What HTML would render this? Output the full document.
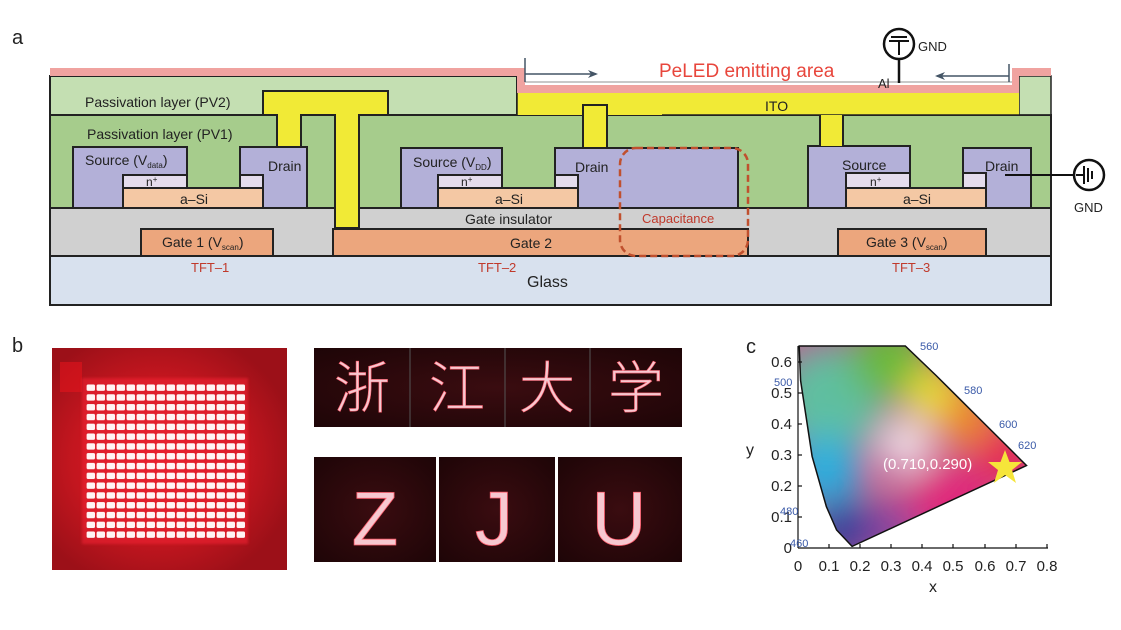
<!DOCTYPE html>
<html><head><meta charset="utf-8"><style>
html,body{margin:0;padding:0;background:#fff;}
svg{display:block;font-family:"Liberation Sans","Noto Sans CJK SC",sans-serif;}
</style></head><body>
<svg width="1121" height="630" viewBox="0 0 1121 630" xmlns="http://www.w3.org/2000/svg">
<defs>
<pattern id="dots" x="86" y="383" width="10" height="9.8" patternUnits="userSpaceOnUse">
<rect x="0.6" y="1.5" width="8.4" height="6.4" rx="1.5" fill="#fff4f4"/>
</pattern>
<radialGradient id="glowL" cx="0.45" cy="0.5" r="0.6">
<stop offset="0" stop-color="#e0202a"/><stop offset="0.6" stop-color="#c4161f"/><stop offset="1" stop-color="#9c1018"/>
</radialGradient>
<radialGradient id="dark" cx="0.5" cy="0.5" r="0.7">
<stop offset="0" stop-color="#3a0c10"/><stop offset="1" stop-color="#1e0507"/>
</radialGradient>
<clipPath id="gam"><path id="gp" d="M852.1,546.4 L836.6,530 L826.4,506.7 L812.1,456.3 L800.6,380.6 L799.2,346 L905.3,346 L936.1,375.5 L957.4,396.7 L976.9,416.1 L993,432.1 L1005.1,444.1 L1013.1,452.1 L1021.6,460.6 L1026.5,465.5 Z"/></clipPath>
<filter id="bl" x="-50%" y="-50%" width="200%" height="200%"><feGaussianBlur stdDeviation="18"/></filter>
<filter id="gl"><feGaussianBlur stdDeviation="1.2"/></filter>
</defs>

<!-- panel a -->
<text x="12" y="44" font-size="20" fill="#222">a</text>
<rect x="50" y="256" width="1001" height="49" fill="#d8e1ee" stroke="#222" stroke-width="2"/>
<rect x="50" y="208" width="1001" height="48" fill="#d0d0d0" stroke="#222" stroke-width="2"/>
<rect x="50" y="115" width="1001" height="93" fill="#a6cc8c" stroke="#222" stroke-width="2"/>
<rect x="50" y="76" width="467" height="39" fill="#c4dfb2" stroke="#222" stroke-width="2"/>
<rect x="1019" y="76" width="32" height="39" fill="#c4dfb2" stroke="#222" stroke-width="1.5"/>
<rect x="517" y="93" width="502" height="22" fill="#f1ea36"/>
<line x1="517" y1="93" x2="517" y2="115" stroke="#222" stroke-width="1.5"/>
<line x1="662" y1="115" x2="1051" y2="115" stroke="#222" stroke-width="1.5"/>
<path d="M50,68 L525,68 L525,85 L1012,85 L1012,68 L1051,68 L1051,76 L1019,76 L1019,93 L517,93 L517,76 L50,76 Z" fill="#f0a3a0"/>
<line x1="525" y1="82" x2="1012" y2="82" stroke="#c8c8c8" stroke-width="2"/>
<rect x="141" y="229" width="132" height="27" fill="#eca67d" stroke="#222" stroke-width="2"/>
<rect x="333" y="229" width="415" height="27" fill="#eca67d" stroke="#222" stroke-width="2"/>
<rect x="838" y="229" width="148" height="27" fill="#eca67d" stroke="#222" stroke-width="2"/>
<rect x="73" y="147" width="114" height="61" fill="#b3b0d8" stroke="#222" stroke-width="2"/>
<rect x="240" y="147" width="67" height="61" fill="#b3b0d8" stroke="#222" stroke-width="2"/>
<rect x="123" y="188" width="140" height="20" fill="#f4c8a4" stroke="#222" stroke-width="2"/>
<rect x="123" y="175" width="64" height="13" fill="#e4dcec" stroke="#222" stroke-width="2"/>
<rect x="240" y="175" width="23" height="13" fill="#e4dcec" stroke="#222" stroke-width="2"/>
<rect x="401" y="148" width="101" height="60" fill="#b3b0d8" stroke="#222" stroke-width="2"/>
<rect x="555" y="148" width="183" height="60" fill="#b3b0d8" stroke="#222" stroke-width="2"/>
<rect x="438" y="188" width="140" height="20" fill="#f4c8a4" stroke="#222" stroke-width="2"/>
<rect x="438" y="175" width="64" height="13" fill="#e4dcec" stroke="#222" stroke-width="2"/>
<rect x="555" y="175" width="23" height="13" fill="#e4dcec" stroke="#222" stroke-width="2"/>
<rect x="808" y="146" width="102" height="62" fill="#b3b0d8" stroke="#222" stroke-width="2"/>
<rect x="963" y="148" width="68" height="60" fill="#b3b0d8" stroke="#222" stroke-width="2"/>
<rect x="846" y="188" width="140" height="20" fill="#f4c8a4" stroke="#222" stroke-width="2"/>
<rect x="846" y="173" width="64" height="15" fill="#e4dcec" stroke="#222" stroke-width="2"/>
<rect x="963" y="173" width="23" height="15" fill="#e4dcec" stroke="#222" stroke-width="2"/>
<path d="M263,91 L388,91 L388,115 L359,115 L359,228 L335,228 L335,115 L301,115 L301,147 L277,147 L277,115 L263,115 Z" fill="#f1ea36" stroke="#222" stroke-width="2"/>
<rect x="583" y="105" width="24" height="43" fill="#f1ea36" stroke="#222" stroke-width="2"/>
<rect x="820" y="115" width="23" height="31" fill="#f1ea36"/>
<line x1="820" y1="115" x2="820" y2="146" stroke="#222" stroke-width="2"/>
<line x1="843" y1="115" x2="843" y2="146" stroke="#222" stroke-width="2"/>
<rect x="620" y="148" width="128" height="108" rx="16" fill="none" stroke="#c0502e" stroke-width="2.5" stroke-dasharray="7,4"/>
<line x1="525" y1="58" x2="525" y2="82" stroke="#445566" stroke-width="1.5"/>
<line x1="525" y1="74" x2="596" y2="74" stroke="#445566" stroke-width="1.5"/>
<path d="M598,74 L588,70 L591,74 L588,78 Z" fill="#445566"/>
<line x1="1009" y1="64" x2="1009" y2="82" stroke="#445566" stroke-width="1.5"/>
<line x1="937" y1="76" x2="1009" y2="76" stroke="#445566" stroke-width="1.5"/>
<path d="M935,76 L945,72 L942,76 L945,80 Z" fill="#445566"/>
<circle cx="899" cy="44" r="15" fill="#fff" stroke="#111" stroke-width="2.5"/>
<line x1="899" y1="59" x2="899" y2="83" stroke="#111" stroke-width="2.5"/>
<line x1="891" y1="37" x2="907" y2="37" stroke="#111" stroke-width="2"/>
<line x1="889" y1="41" x2="909" y2="41" stroke="#111" stroke-width="2"/>
<line x1="899" y1="41" x2="899" y2="55" stroke="#111" stroke-width="2"/>
<text x="918" y="51" font-size="13" fill="#222">GND</text>
<text x="878" y="88" font-size="13" fill="#222">Al</text>
<line x1="1005" y1="175" x2="1074" y2="175" stroke="#111" stroke-width="2"/>
<circle cx="1089" cy="175" r="15" fill="#fff" stroke="#111" stroke-width="2.5"/>
<line x1="1076" y1="175" x2="1084" y2="175" stroke="#111" stroke-width="2"/>
<line x1="1084" y1="166" x2="1084" y2="184" stroke="#111" stroke-width="2"/>
<line x1="1088" y1="168" x2="1088" y2="182" stroke="#111" stroke-width="2"/>
<line x1="1092" y1="171" x2="1092" y2="179" stroke="#111" stroke-width="2"/>
<text x="1074" y="212" font-size="13" fill="#222">GND</text>
<g fill="#222" font-size="14">
<text x="85" y="107">Passivation layer (PV2)</text>
<text x="87" y="139">Passivation layer (PV1)</text>
<text x="85" y="165">Source (V<tspan font-size="8" dy="3">data</tspan><tspan dy="-3">)</tspan></text>
<text x="268" y="171">Drain</text>
<text x="146" y="186" font-size="12">n<tspan font-size="8" dy="-4">+</tspan></text>
<text x="180" y="204">a–Si</text>
<text x="413" y="167">Source (V<tspan font-size="8" dy="3">DD</tspan><tspan dy="-3">)</tspan></text>
<text x="575" y="172">Drain</text>
<text x="461" y="186" font-size="12">n<tspan font-size="8" dy="-4">+</tspan></text>
<text x="495" y="204">a–Si</text>
<text x="842" y="170">Source</text>
<text x="985" y="171">Drain</text>
<text x="870" y="186" font-size="12">n<tspan font-size="8" dy="-4">+</tspan></text>
<text x="903" y="204">a–Si</text>
<text x="465" y="224">Gate insulator</text>
<text x="162" y="247">Gate 1 (V<tspan font-size="8" dy="3">scan</tspan><tspan dy="-3">)</tspan></text>
<text x="510" y="248">Gate 2</text>
<text x="866" y="247">Gate 3 (V<tspan font-size="8" dy="3">scan</tspan><tspan dy="-3">)</tspan></text>
<text x="765" y="111">ITO</text>
<text x="527" y="287" font-size="16">Glass</text>
</g>
<g fill="#c0392b" font-size="13">
<text x="191" y="272">TFT–1</text>
<text x="478" y="272">TFT–2</text>
<text x="892" y="272">TFT–3</text>
<text x="642" y="223" font-size="13">Capacitance</text>
</g>
<text x="659" y="77" font-size="19" fill="#e8463c">PeLED emitting area</text>

<!-- panel b -->
<text x="12" y="352" font-size="20" fill="#222">b</text>
<rect x="52" y="348" width="235" height="222" fill="url(#glowL)"/>
<rect x="60" y="362" width="22" height="30" fill="#e3141c" opacity="0.6"/>
<rect x="82" y="378" width="166" height="166" fill="#ee2030" opacity="0.6" filter="url(#gl)"/>
<rect x="86" y="383" width="160" height="157" fill="url(#dots)"/>
<rect x="314" y="348" width="368" height="79" fill="url(#dark)"/>
<g stroke="#555" stroke-width="1"><line x1="410" y1="348" x2="410" y2="427"/><line x1="505" y1="348" x2="505" y2="427"/><line x1="590" y1="348" x2="590" y2="427"/></g>
<g font-size="56" fill="#f6c8d0" stroke="#ff6070" stroke-width="0.6" font-weight="300" font-family="'Noto Sans CJK SC',sans-serif" text-anchor="middle">
<text x="362" y="408">浙</text><text x="457" y="408">江</text><text x="547" y="408">大</text><text x="636" y="408">学</text>
</g>
<rect x="314" y="457" width="122" height="105" fill="url(#dark)"/>
<rect x="439" y="457" width="116" height="105" fill="url(#dark)"/>
<rect x="558" y="457" width="124" height="105" fill="url(#dark)"/>
<g font-size="76" fill="#f6c8d0" stroke="#ff6070" stroke-width="0.8" font-weight="300" text-anchor="middle" font-family="'Liberation Sans',sans-serif">
<text x="375" y="545">Z</text><text x="494" y="545">J</text><text x="619" y="545">U</text>
</g>

<!-- panel c -->
<text x="746" y="353" font-size="20" fill="#222">c</text>
<g clip-path="url(#gam)">
<rect x="790" y="340" width="250" height="215" fill="#c06090"/>
<g filter="url(#bl)">
<circle cx="830" cy="400" r="55" fill="#5fbfa0"/>
<circle cx="890" cy="360" r="40" fill="#68b83a"/>
<circle cx="935" cy="395" r="30" fill="#e8e030"/>
<circle cx="968" cy="420" r="28" fill="#f08a20"/>
<circle cx="1005" cy="455" r="30" fill="#e82050"/>
<circle cx="950" cy="500" r="40" fill="#e0287a"/>
<circle cx="825" cy="470" r="35" fill="#25b0e0"/>
<circle cx="845" cy="530" r="30" fill="#2a3a9a"/>
<circle cx="890" cy="530" r="25" fill="#8040a0"/>
<circle cx="905" cy="445" r="25" fill="#f4eef2"/>
</g>
</g>
<use href="#gp" fill="none" stroke="#111" stroke-width="1.5"/>
<g stroke="#111" stroke-width="1.2">
<line x1="798" y1="346" x2="798" y2="548"/>
<line x1="798" y1="548" x2="1048" y2="548"/>
<line x1="798" y1="362" x2="802" y2="362"/><line x1="798" y1="393" x2="802" y2="393"/><line x1="798" y1="424" x2="802" y2="424"/><line x1="798" y1="455" x2="802" y2="455"/><line x1="798" y1="486" x2="802" y2="486"/><line x1="798" y1="517" x2="802" y2="517"/>
<line x1="829" y1="548" x2="829" y2="544"/><line x1="860" y1="548" x2="860" y2="544"/><line x1="891" y1="548" x2="891" y2="544"/><line x1="922" y1="548" x2="922" y2="544"/><line x1="953" y1="548" x2="953" y2="544"/><line x1="985" y1="548" x2="985" y2="544"/><line x1="1016" y1="548" x2="1016" y2="544"/><line x1="1047" y1="548" x2="1047" y2="544"/>
</g>
<g font-size="15" fill="#222" text-anchor="end">
<text x="792" y="367">0.6</text><text x="792" y="398">0.5</text><text x="792" y="429">0.4</text><text x="792" y="460">0.3</text><text x="792" y="491">0.2</text><text x="792" y="522">0.1</text><text x="792" y="553">0</text>
</g>
<g font-size="15" fill="#222" text-anchor="middle">
<text x="798" y="571">0</text><text x="829" y="571">0.1</text><text x="860" y="571">0.2</text><text x="891" y="571">0.3</text><text x="922" y="571">0.4</text><text x="953" y="571">0.5</text><text x="985" y="571">0.6</text><text x="1016" y="571">0.7</text><text x="1047" y="571">0.8</text>
<text x="933" y="592" font-size="16">x</text>
<text x="750" y="455" font-size="16">y</text>
</g>
<g font-size="11" fill="#3a5aa8">
<text x="920" y="350">560</text><text x="964" y="394">580</text><text x="999" y="428">600</text><text x="1018" y="449">620</text>
<text x="774" y="386">500</text><text x="780" y="515">480</text><text x="790" y="547">460</text>
</g>
<path d="M1005,450 L1009.5,462 L1022,462 L1012,470 L1016,483 L1005,475 L994,483 L998,470 L988,462 L1000.5,462 Z" fill="#f6e53a"/>
<text x="883" y="469" font-size="15" fill="#fff">(0.710,0.290)</text>
</svg>
</body></html>
